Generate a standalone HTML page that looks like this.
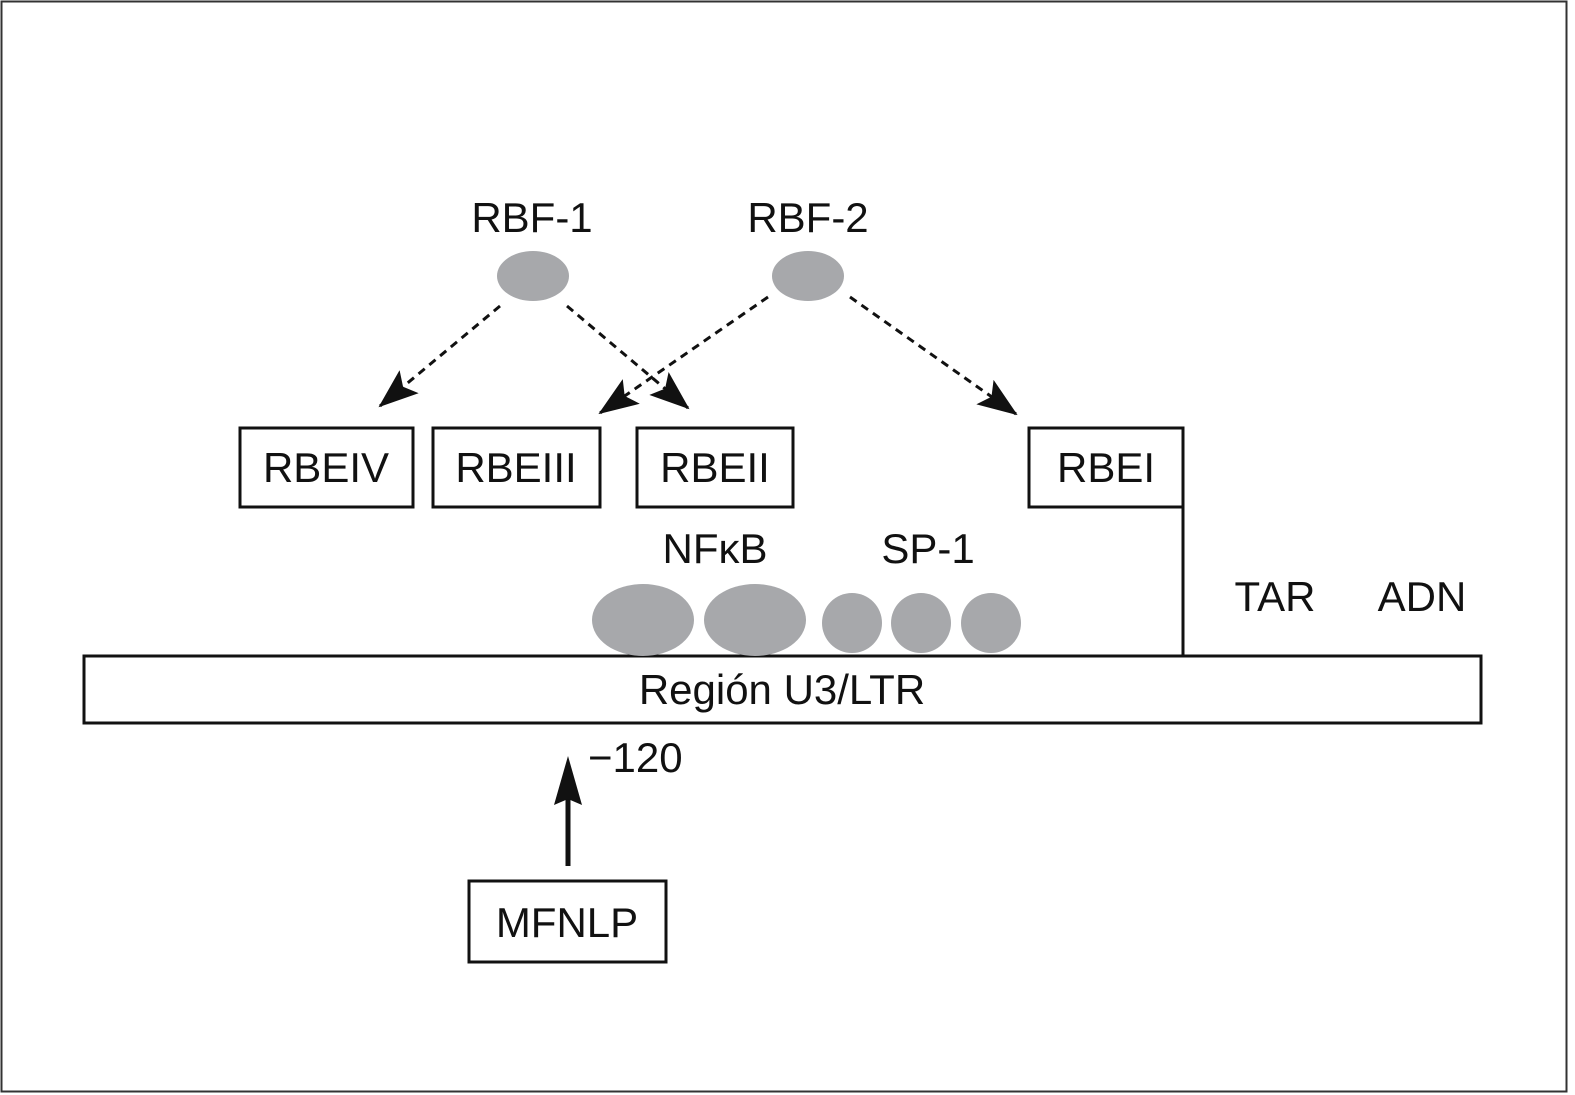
<!DOCTYPE html>
<html><head><meta charset="utf-8"><style>body{margin:0;background:#fff}svg{display:block}text{font-family:"Liberation Sans",sans-serif;font-size:42px;fill:#111}</style></head><body>
<svg width="1575" height="1095" viewBox="0 0 1575 1095">
<defs><marker id="a" markerWidth="12" markerHeight="10" refX="11" refY="5" orient="auto" markerUnits="userSpaceOnUse" viewBox="0 0 12 10"><path d="M0,0 L12,5 L0,10 L3,5 Z" fill="#111"/></marker>
<marker id="h" viewBox="0 0 40 30" refX="38" refY="15" markerWidth="40" markerHeight="30" orient="auto" markerUnits="userSpaceOnUse"><path d="M0,0 L40,15 L0,30 L8,15 Z" fill="#111"/></marker></defs>
<rect x="1.5" y="1.5" width="1565" height="1090" fill="none" stroke="#333" stroke-width="2"/>
<text x="532" y="232" text-anchor="middle">RBF-1</text>
<text x="808" y="232" text-anchor="middle">RBF-2</text>
<ellipse cx="533" cy="276" rx="36" ry="25" fill="#a7a8ab"/>
<ellipse cx="808" cy="276" rx="36" ry="25" fill="#a7a8ab"/>
<g stroke="#111" stroke-width="3" stroke-dasharray="8,6" fill="none">
<line x1="500" y1="306" x2="380" y2="406" marker-end="url(#h)"/>
<line x1="567" y1="306" x2="688" y2="408" marker-end="url(#h)"/>
<line x1="768" y1="297" x2="600" y2="413" marker-end="url(#h)"/>
<line x1="850" y1="297" x2="1016" y2="414" marker-end="url(#h)"/>
</g>
<g fill="#fff" stroke="#111" stroke-width="3">
<rect x="240" y="428" width="173" height="79"/>
<rect x="433" y="428" width="167" height="79"/>
<rect x="637" y="428" width="156" height="79"/>
<rect x="1029" y="428" width="154" height="79"/>
<rect x="84" y="656" width="1397" height="67"/>
<rect x="469" y="881" width="197" height="81"/>
</g>
<line x1="1183" y1="507" x2="1183" y2="656" stroke="#111" stroke-width="3"/>
<text x="326" y="482" text-anchor="middle">RBEIV</text>
<text x="516" y="482" text-anchor="middle">RBEIII</text>
<text x="715" y="482" text-anchor="middle">RBEII</text>
<text x="1106" y="482" text-anchor="middle">RBEI</text>
<text x="715" y="563" text-anchor="middle">NFκB</text>
<text x="928" y="563" text-anchor="middle">SP-1</text>
<text x="1275" y="611" text-anchor="middle">TAR</text>
<text x="1422" y="611" text-anchor="middle">ADN</text>
<ellipse cx="643" cy="620" rx="51" ry="36" fill="#a7a8ab"/>
<ellipse cx="755" cy="620" rx="51" ry="36" fill="#a7a8ab"/>
<circle cx="852" cy="623" r="30" fill="#a7a8ab"/>
<circle cx="921" cy="623" r="30" fill="#a7a8ab"/>
<circle cx="991" cy="623" r="30" fill="#a7a8ab"/>
<text x="782" y="704" text-anchor="middle">Región U3/LTR</text>
<text x="588" y="772">−120</text>
<line x1="568" y1="866" x2="568" y2="795" stroke="#111" stroke-width="5"/>
<path d="M568,756 L582,805 L568,799 L554,805 Z" fill="#111"/>
<text x="567" y="937" text-anchor="middle">MFNLP</text>
</svg>
</body></html>
